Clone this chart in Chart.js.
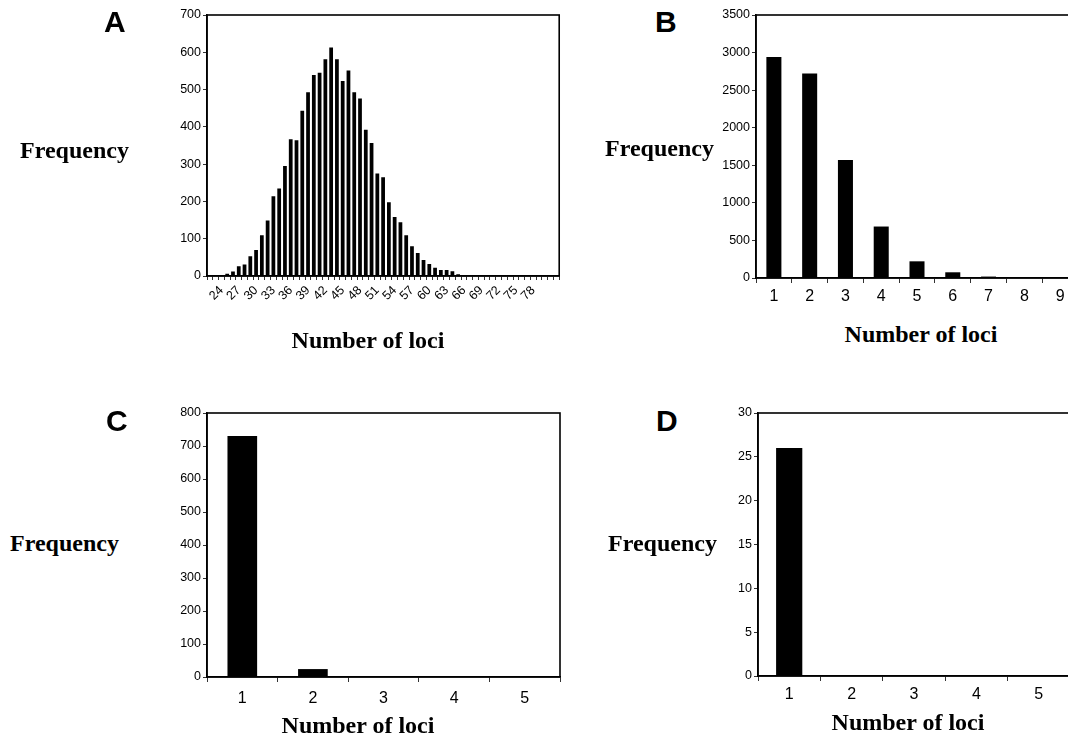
<!DOCTYPE html>
<html>
<head>
<meta charset="utf-8">
<script src="https://cdn.jsdelivr.net/npm/chart.js@4.4.1/dist/chart.umd.min.js"></script>
<style>
  html, body { margin: 0; padding: 0; background: #fff; }
  body { width: 1068px; height: 738px; overflow: hidden; position: relative; }
  canvas { position: absolute; }
  .letter { position: absolute; font-family: "Liberation Sans", Arial, sans-serif; font-weight: bold; font-size: 30px; line-height: 30px; color: #000; }
  .ylab { position: absolute; font-family: "Liberation Serif", "Times New Roman", serif; font-weight: bold; font-size: 24px; line-height: 24px; color: #000; white-space: nowrap; }
  .xlab { position: absolute; width: 300px; text-align: center; font-family: "Liberation Serif", "Times New Roman", serif; font-weight: bold; font-size: 24px; line-height: 24px; color: #000; white-space: nowrap; }
</style>
</head>
<body>
<canvas id="cA" width="450" height="330" style="left:120px;top:0px"></canvas>
<canvas id="cB" width="400" height="320" style="left:690px;top:0px"></canvas>
<canvas id="cC" width="430" height="340" style="left:140px;top:398px"></canvas>
<canvas id="cD" width="390" height="340" style="left:690px;top:398px"></canvas>

<div class="letter" style="left:104px;top:7px">A</div>
<div class="letter" style="left:655px;top:7px">B</div>
<div class="letter" style="left:106px;top:406px">C</div>
<div class="letter" style="left:656px;top:406px">D</div>

<div class="ylab" style="left:20px;top:138px">Frequency</div>
<div class="ylab" style="left:605px;top:136px">Frequency</div>
<div class="ylab" style="left:10px;top:531px">Frequency</div>
<div class="ylab" style="left:608px;top:531px">Frequency</div>

<div class="xlab" style="left:218px;top:328px">Number of loci</div>
<div class="xlab" style="left:771px;top:322px">Number of loci</div>
<div class="xlab" style="left:208px;top:713px">Number of loci</div>
<div class="xlab" style="left:758px;top:710px">Number of loci</div>

<script>
// ---- Data ----
const categoriesA = [22,23,24,25,26,27,28,29,30,31,32,33,34,35,36,37,38,39,40,41,42,43,44,45,46,47,48,49,50,51,52,53,54,55,56,57,58,59,60,61,62,63,64,65,66,67,68,69,70,71,72,73,74,75,76,77,78,79,80,81,82];
const valuesA = [2,1,2,6,12,26,31,53,70,109,149,214,235,295,367,364,443,493,539,545,581,613,581,523,551,493,476,392,357,275,265,198,158,144,109,80,62,43,32,22,16,16,13,5,2,1,0,0,0,0,0,0,0,0,0,0,0,0,0,0,0];
const tickLabelsA = ['24','27','30','33','36','39','42','45','48','51','54','57','60','63','66','69','72','75','78'];
const yTicksA = [0,100,200,300,400,500,600,700];

const categoriesB = ['1','2','3','4','5','6','7','8','9'];
const valuesB = [2940,2720,1570,685,222,76,19,5,0];
const yTicksB = [0,500,1000,1500,2000,2500,3000,3500];

const categoriesC = ['1','2','3','4','5'];
const valuesC = [730,24,0,0,0];
const yTicksC = [0,100,200,300,400,500,600,700,800];

const categoriesD = ['1','2','3','4','5'];
const valuesD = [26,0,0,0,0];
const yTicksD = [0,5,10,15,20,25,30];

// ---- Helpers ----
const frame = {
  id: 'frame',
  afterDraw(chart) {
    const {ctx, chartArea: a} = chart;
    ctx.save();
    ctx.strokeStyle = '#000';
    ctx.lineWidth = 1.6;
    ctx.strokeRect(a.left, a.top, a.right - a.left, a.bottom - a.top);
    ctx.restore();
  }
};

function makeChart(id, cats, vals, yTicks, opt) {
  const yMax = yTicks[yTicks.length - 1];
  const step = yTicks[1] - yTicks[0];
  return new Chart(document.getElementById(id), {
    type: 'bar',
    data: {
      labels: cats.map(String),
      datasets: [{
        data: vals,
        backgroundColor: '#000',
        borderWidth: 0,
        barPercentage: opt.barPct,
        categoryPercentage: 1.0
      }]
    },
    options: {
      responsive: false,
      animation: false,
      events: [],
      layout: { padding: { top: opt.padTop, right: opt.padRight, left: 0, bottom: 0 } },
      plugins: { legend: { display: false }, tooltip: { enabled: false } },
      scales: {
        x: {
          grid: { display: true, drawOnChartArea: false, offset: true, tickLength: opt.xTickLen, color: '#333', tickWidth: 1 },
          border: { display: true, color: '#000', width: 1.6 },
          ticks: {
            autoSkip: false,
            maxRotation: opt.rot, minRotation: opt.rot,
            padding: opt.xPad,
            color: '#000',
            font: { family: '"Liberation Sans", Arial, sans-serif', size: opt.xFont },
            callback: opt.xCallback || function (v, i) { return cats[i]; }
          },
          afterFit(scale) { scale.height = opt.xHeight; }
        },
        y: {
          min: 0, max: yMax,
          grid: { display: true, drawOnChartArea: false, tickLength: 4, color: '#333' },
          border: { display: true, color: '#000', width: 1.6 },
          ticks: {
            stepSize: step,
            padding: 2,
            color: '#000',
            font: { family: '"Liberation Sans", Arial, sans-serif', size: 12.5 },
            callback: function (v) { return yTicks.includes(v) ? String(v) : ''; }
          },
          afterFit(scale) { scale.width = opt.yWidth; }
        }
      }
    },
    plugins: [frame]
  });
}

makeChart('cA', categoriesA, valuesA, yTicksA, {
  barPct: 0.65, padTop: 15, padRight: 9, yWidth: 87, xHeight: 54,
  rot: 45, xPad: 3, xFont: 12.5, xTickLen: 4,
  xCallback: function (v, i) { const s = String(categoriesA[i]); return tickLabelsA.includes(s) ? s : ''; }
});
makeChart('cB', categoriesB, valuesB, yTicksB, {
  barPct: 0.42, padTop: 15, padRight: 12, yWidth: 66, xHeight: 42,
  rot: 0, xPad: 4, xFont: 16, xTickLen: 5
});
makeChart('cC', categoriesC, valuesC, yTicksC, {
  barPct: 0.42, padTop: 15, padRight: 10, yWidth: 67, xHeight: 61,
  rot: 0, xPad: 7, xFont: 16, xTickLen: 5
});
makeChart('cD', categoriesD, valuesD, yTicksD, {
  barPct: 0.42, padTop: 15, padRight: 10, yWidth: 68, xHeight: 62,
  rot: 0, xPad: 4, xFont: 16, xTickLen: 5
});
</script>
</body>
</html>
